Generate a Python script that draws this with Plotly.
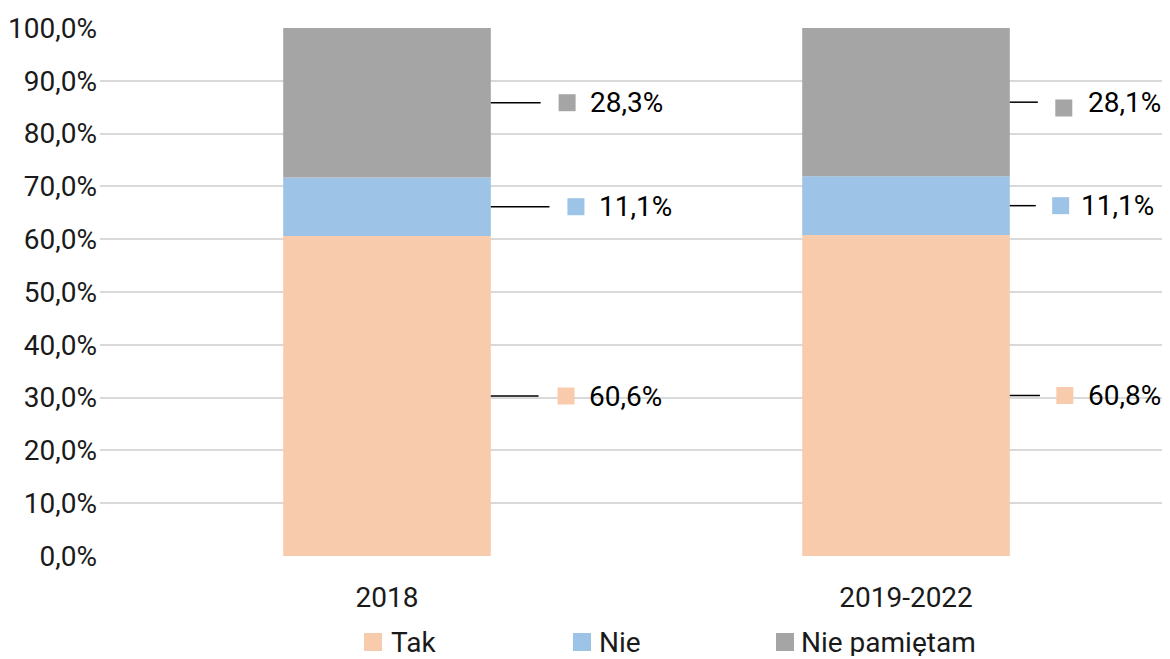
import plotly.graph_objects as go

categories = ["2018", "2019-2022"]
series_names = ["Tak", "Nie", "Nie pamiętam"]
tak = [60.6, 60.8]
nie = [11.1, 11.1]
nie_pam = [28.3, 28.1]
y_ticks = [0, 10, 20, 30, 40, 50, 60, 70, 80, 90, 100]

colors = ["#F8CBAD", "#9DC3E6", "#A5A5A5"]
series_values = [tak, nie, nie_pam]

# label layout offsets (per series, per category) in category units
line_end = {"Tak": [0.292, 0.258], "Nie": [0.313, 0.250], "Nie pamiętam": [0.296, 0.254]}
marker_x = {"Tak": [0.345, 0.306], "Nie": [0.364, 0.298], "Nie pamiętam": [0.347, 0.304]}
text_x = {"Tak": [0.385, 0.347], "Nie": [0.404, 0.333], "Nie pamiętam": [0.387, 0.347]}
marker_dy = {"Tak": [0, 0], "Nie": [0, 0], "Nie pamiętam": [0, -1.1]}

BAR_W = 0.4
FONT = "Roboto"
FS = 28

# figure geometry (page body has an 8px default margin)
FIG_W, FIG_H = 1162, 651
ML, MR, MT, MB = 92, 5, 20, 103
PW = FIG_W - ML - MR
PH = FIG_H - MT - MB

def px_to_paper(fx, fy):
    return (fx - ML) / PW, (FIG_H - MB - fy) / PH

fig = go.Figure()
xs = list(range(len(categories)))

base = [0.0] * len(categories)
shapes = []
annotations = []
for name, vals, col in zip(series_names, series_values, colors):
    fig.add_trace(go.Bar(x=xs, y=vals, base=base[:], width=BAR_W, marker=dict(color=col, line=dict(width=0)),
                         name=name, showlegend=False, hoverinfo="skip"))
    mids = [b + v / 2 for b, v in zip(base, vals)]
    mx, my = [], []
    for i, (m, v) in enumerate(zip(mids, vals)):
        shapes.append(dict(type="line", xref="x", yref="y", x0=i + BAR_W / 2, x1=i + line_end[name][i],
                           y0=m, y1=m, line=dict(color="black", width=1.5)))
        mx.append(i + marker_x[name][i])
        my.append(m + marker_dy[name][i])
        annotations.append(dict(x=i + text_x[name][i], y=m, xref="x", yref="y", xanchor="left", yanchor="middle",
                                text=f"{v:.1f}".replace(".", ",") + "%", showarrow=False,
                                font=dict(family=FONT, size=FS, color="black")))
    fig.add_trace(go.Scatter(x=mx, y=my, mode="markers", marker=dict(symbol="square", size=17, color=col),
                             showlegend=False, hoverinfo="skip", cliponaxis=False))
    base = [b + v for b, v in zip(base, vals)]

# legend drawn as squares + labels below the chart
legend_sq_x = [365, 574, 777]
legend_txt_x = [382, 590, 792]
legend_y = 634
SQ = 9
for name, col, sx, tx in zip(series_names, colors, legend_sq_x, legend_txt_x):
    x0, y0 = px_to_paper(sx - SQ, legend_y + SQ)
    x1, y1 = px_to_paper(sx + SQ, legend_y - SQ)
    shapes.append(dict(type="rect", xref="paper", yref="paper", x0=x0, x1=x1, y0=y0, y1=y1,
                       fillcolor=col, line=dict(width=0)))
    ax, ay = px_to_paper(tx, legend_y)
    annotations.append(dict(x=ax, y=ay, xref="paper", yref="paper", xanchor="left", yanchor="middle",
                            height=28, valign="middle", borderpad=0,
                            text=name, showarrow=False, font=dict(family=FONT, size=FS, color="#1a1a1a")))

fig.update_layout(
    width=FIG_W, height=FIG_H,
    margin=dict(l=ML, r=MR, t=MT, b=MB, autoexpand=False),
    plot_bgcolor="white", paper_bgcolor="white",
    font=dict(family=FONT, size=FS, color="#1a1a1a"),
    separators=", ",
    barmode="overlay",
    shapes=shapes,
    annotations=annotations,
    showlegend=False,
    xaxis=dict(range=[-0.553, 1.499], tickmode="array", tickvals=xs, ticktext=categories,
               showgrid=False, zeroline=False, showline=False, ticks="", automargin=False,
               ticklabelstandoff=22),
    yaxis=dict(range=[0, 100], tickmode="array", tickvals=y_ticks,
               ticktext=[f"{t:.1f}".replace(".", ",") + "%" for t in y_ticks],
               showgrid=True, gridcolor="#D9D9D9", gridwidth=1.5, zeroline=False, showline=False, ticks="",
               automargin=False, ticklabelstandoff=2),
)

fig.write_html("out.html")
